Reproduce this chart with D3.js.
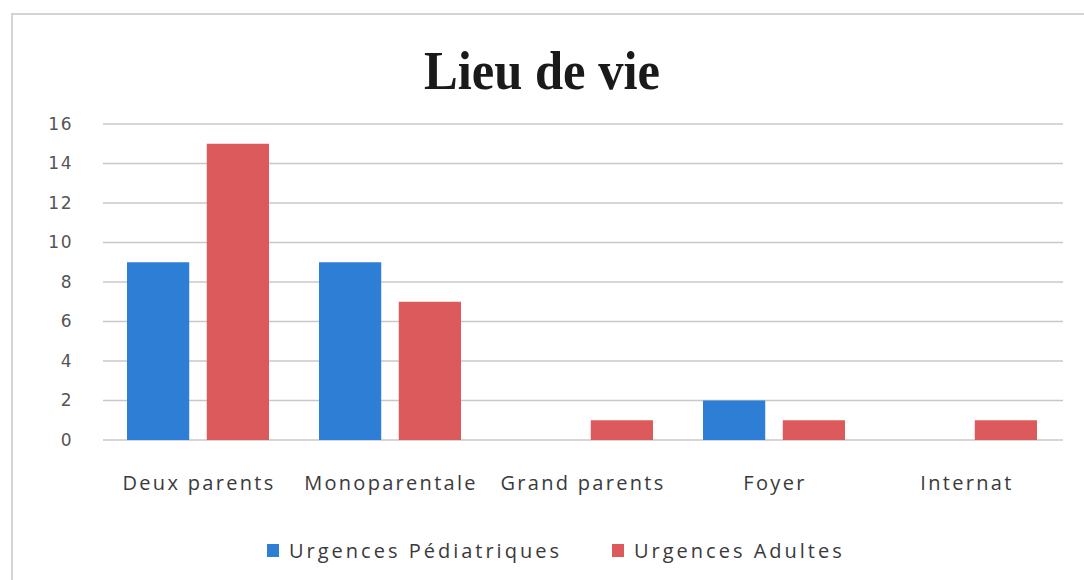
<!DOCTYPE html>
<html>
<head>
<meta charset="utf-8">
<script src="https://cdn.jsdelivr.net/npm/d3@7"></script>
<style>
  body { margin: 0; background: #fff; }
  svg { display: block; }
</style>
</head>
<body>
<div id="chart"></div>
<script>
// Data
const categories = ["Deux parents", "Monoparentale", "Grand parents", "Foyer", "Internat"];
const seriesNames = ["Urgences Pédiatriques", "Urgences Adultes"];
const pediatriques = [9, 9, 0, 2, 0];
const adultes = [15, 7, 1, 1, 1];
const yTicks = [0, 2, 4, 6, 8, 10, 12, 14, 16];
const colors = ["#2f7ed6", "#dc5a5c"];

const width = 1084;
const height = 580;
const margin = { top: 124, right: 21, bottom: 140, left: 103 };

const svg = d3.select("#chart").append("svg")
    .attr("width", width)
    .attr("height", height);

// outer frame (only top and left visible in scan)
svg.append("path")
    .attr("d", `M12,${height} L12,14 L${width},14`)
    .attr("fill", "none")
    .attr("stroke", "#d4d4d4")
    .attr("stroke-width", 2);

svg.append("text")
    .attr("x", 542)
    .attr("y", 89)
    .attr("text-anchor", "middle")
    .attr("textLength", 236)
    .attr("lengthAdjust", "spacingAndGlyphs")
    .style("font-family", "Liberation Serif, Times New Roman, serif")
    .style("font-weight", "bold")
    .style("font-size", "54px")
    .attr("fill", "#1a1a1a")
    .text("Lieu de vie");

const x0 = d3.scaleBand()
    .domain(categories)
    .range([margin.left, width - margin.right])
    .paddingInner(0)
    .paddingOuter(0);

const x1 = d3.scaleBand()
    .domain(seriesNames)
    .range([24, x0.bandwidth() - 26])
    .paddingInner(0.22);

const y = d3.scaleLinear()
    .domain([0, 16])
    .range([height - margin.bottom, margin.top]);

// grid
svg.append("g")
    .selectAll("line")
    .data(yTicks)
    .join("line")
    .attr("x1", margin.left)
    .attr("x2", width - margin.right)
    .attr("y1", d => y(d))
    .attr("y2", d => y(d))
    .attr("stroke", "#c8c8c8")
    .attr("stroke-width", 1.4);

// y axis labels
const yAxis = d3.axisLeft(y).tickValues(yTicks).tickSize(0).tickPadding(0);
svg.append("g")
    .attr("transform", `translate(${margin.left - 30},0)`)
    .call(yAxis)
    .call(g => g.select(".domain").remove())
    .call(g => g.selectAll("text")
        .attr("text-anchor", "end")
        .style("font-family", "DejaVu Sans, sans-serif")
        .style("font-size", "17px")
        .style("letter-spacing", "1.5px")
        .attr("fill", "#555"));

// bars
const rows = categories.map((c, i) => ({ cat: c, values: [pediatriques[i], adultes[i]] }));
const groups = svg.append("g")
    .selectAll("g")
    .data(rows)
    .join("g")
    .attr("transform", d => `translate(${x0(d.cat)},0)`);

groups.selectAll("rect")
    .data(d => d.values.map((v, j) => ({ name: seriesNames[j], value: v, j })))
    .join("rect")
    .attr("x", d => x1(d.name))
    .attr("width", x1.bandwidth())
    .attr("y", d => y(d.value))
    .attr("height", d => y(0) - y(d.value))
    .attr("fill", d => colors[d.j]);

// category labels
const xAxis = d3.axisBottom(x0).tickSize(0).tickPadding(0);
svg.append("g")
    .attr("transform", `translate(0,${y(0)})`)
    .call(xAxis)
    .call(g => g.select(".domain").remove())
    .call(g => g.selectAll("text")
        .attr("dy", "0")
        .attr("y", 50)
        .style("font-family", "Open Sans, sans-serif")
        .style("font-size", "20px")
        .style("letter-spacing", "2.3px")
        .attr("fill", "#3a3a3a"));

// legend
const legend = svg.append("g").attr("transform", "translate(0,558)");
const legendX = [267, 612];
seriesNames.forEach((name, i) => {
    const g = legend.append("g").attr("transform", `translate(${legendX[i]},0)`);
    g.append("rect")
        .attr("x", 0).attr("y", -14)
        .attr("width", 12).attr("height", 13)
        .attr("fill", colors[i]);
    g.append("text")
        .attr("x", 22)
        .attr("y", 0)
        .style("font-family", "Open Sans, sans-serif")
        .style("font-size", "20px")
        .style("letter-spacing", "3px")
        .attr("fill", "#3a3a3a")
        .text(name);
});
</script>
</body>
</html>
